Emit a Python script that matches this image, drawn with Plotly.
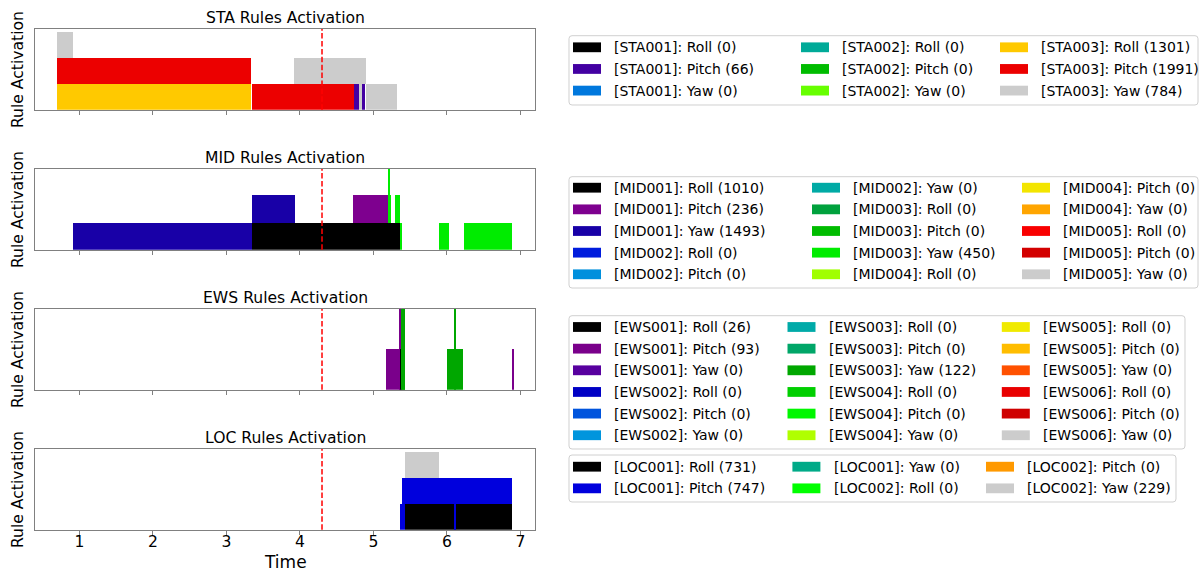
import numpy as np
import plotly.graph_objects as go

W, H = 1203, 572

# ---------------- data ----------------
AXIS_NAMES = ["Roll", "Pitch", "Yaw"]
GROUPS = ["STA", "MID", "EWS", "LOC"]

STA_RULES = ["STA001", "STA002", "STA003"]
STA_COUNTS = [0, 66, 0, 0, 0, 0, 1301, 1991, 784]
# (series index, start time, end time, stack base, height)
STA_SEGMENTS = [
    (6, 0.70, 3.34, 0, 1),
    (7, 0.70, 3.34, 1, 1),
    (8, 0.70, 0.91, 2, 1),
    (7, 3.34, 4.73, 0, 1),
    (8, 3.92, 4.89, 1, 1),
    (1, 4.73, 4.795, 0, 1),
    (8, 4.795, 4.83, 0, 1),
    (1, 4.83, 4.87, 0, 1),
    (8, 4.87, 5.30, 0, 1),
]

MID_RULES = ["MID001", "MID002", "MID003", "MID004", "MID005"]
MID_COUNTS = [1010, 236, 1493, 0, 0, 0, 0, 0, 450, 0, 0, 0, 0, 0, 0]
MID_SEGMENTS = [
    (2, 0.91, 3.34, 0, 1),
    (2, 3.34, 3.93, 1, 1),
    (0, 3.34, 5.36, 0, 1),
    (1, 4.72, 5.20, 1, 1),
    (8, 5.20, 5.235, 1, 1),
    (8, 5.198, 5.212, 1, 2),
    (8, 5.29, 5.36, 1, 1),
    (8, 5.36, 5.377, 0, 1),
    (8, 5.89, 6.02, 0, 1),
    (8, 6.22, 6.885, 0, 1),
]

EWS_RULES = ["EWS001", "EWS002", "EWS003", "EWS004", "EWS005", "EWS006"]
EWS_COUNTS = [26, 93, 0, 0, 0, 0, 0, 0, 122, 0, 0, 0, 0, 0, 0, 0, 0, 0]
EWS_SEGMENTS = [
    (1, 5.17, 5.36, 0, 1),
    (1, 5.343, 5.36, 0, 2),
    (0, 5.36, 5.383, 0, 1),
    (8, 5.383, 5.43, 0, 1),
    (8, 5.379, 5.389, 0, 2),
    (8, 5.401, 5.413, 0, 2),
    (8, 6.00, 6.21, 0, 1),
    (8, 6.102, 6.112, 0, 2),
    (1, 6.883, 6.893, 0, 1),
]

LOC_RULES = ["LOC001", "LOC002"]
LOC_COUNTS = [731, 747, 0, 0, 0, 229]
LOC_SEGMENTS = [
    (1, 5.36, 5.42, 0, 1),
    (0, 5.42, 6.885, 0, 1),
    (1, 6.102, 6.112, 0, 1),
    (1, 5.385, 6.885, 1, 1),
    (5, 5.43, 5.885, 2, 1),
]

EVENT_TIME = 4.30
X_TICKS = [1, 2, 3, 4, 5, 6, 7]
Y_MAX = [3.12, 2.97, 1.99, 3.12]

RULES = [STA_RULES, MID_RULES, EWS_RULES, LOC_RULES]
COUNTS = [STA_COUNTS, MID_COUNTS, EWS_COUNTS, LOC_COUNTS]
SEGMENTS = [STA_SEGMENTS, MID_SEGMENTS, EWS_SEGMENTS, LOC_SEGMENTS]

# ---------------- colormap (nipy_spectral) ----------------
_NS_X = [0.0, 0.05, 0.10, 0.15, 0.20, 0.25, 0.30, 0.35, 0.40, 0.45, 0.50,
         0.55, 0.60, 0.65, 0.70, 0.75, 0.80, 0.85, 0.90, 0.95, 1.0]
_NS_R = [0, .4667, .5333, 0, 0, 0, 0, 0, 0, 0, 0, 0, 0, .7333, .9333, 1, 1, 1, .8667, .8, .8]
_NS_G = [0, 0, 0, 0, 0, .4667, .6, .6667, .6667, .6, .7333, .8667, 1, 1, .9333, .8, .6, 0, 0, 0, .8]
_NS_B = [0, .5333, .6, .6667, .8667, .8667, .8667, .6667, .5333, 0, 0, 0, 0, 0, 0, 0, 0, 0, 0, 0, .8]


def nipy(v):
    idx = min(int(v * 256), 255)
    t = idx / 255.0
    r = np.interp(t, _NS_X, _NS_R)
    g = np.interp(t, _NS_X, _NS_G)
    b = np.interp(t, _NS_X, _NS_B)
    return "rgb(%d,%d,%d)" % (round(r * 255), round(g * 255), round(b * 255))


# ---------------- layout helpers ----------------
def px(x):
    return x / W


def py(y):
    return 1 - y / H


AX_LEFT, AX_RIGHT = 34.6, 535.4
AX_TOPS = [29, 169, 309, 449]
AX_H = 80.7

FONT = "DejaVu Sans"
SPINE = "#808080"

all_starts = [s[1] for segs in SEGMENTS for s in segs]
all_ends = [s[2] for segs in SEGMENTS for s in segs]
lo, hi = min(all_starts), max(all_ends)
pad = 0.05 * (hi - lo)
X_RANGE = [lo - pad, hi + pad]

fig = go.Figure()
layout = dict(
    width=W, height=H,
    margin=dict(l=0, r=0, t=0, b=0),
    paper_bgcolor="white", plot_bgcolor="white",
    showlegend=False,
    font=dict(family=FONT, color="black"),
    bargap=0,
)
annotations = []
shapes = []

for i, grp in enumerate(GROUPS):
    xa = "xaxis" if i == 0 else "xaxis%d" % (i + 1)
    ya = "yaxis" if i == 0 else "yaxis%d" % (i + 1)
    xr = "x" if i == 0 else "x%d" % (i + 1)
    yr = "y" if i == 0 else "y%d" % (i + 1)
    top = AX_TOPS[i]
    bot = top + AX_H
    layout[xa] = dict(
        domain=[px(AX_LEFT), px(AX_RIGHT)], anchor=yr, range=X_RANGE,
        tickmode="array", tickvals=X_TICKS, ticktext=[str(t) for t in X_TICKS],
        showticklabels=(i == 3), ticks="outside", ticklen=4, tickwidth=1, tickcolor=SPINE,
        showline=True, linecolor=SPINE, linewidth=1, mirror=True,
        showgrid=False, zeroline=False, ticklabelstandoff=-6,
        tickfont=dict(family=FONT, size=15.6, color="black"),
    )
    layout[ya] = dict(
        domain=[py(bot), py(top)], anchor=xr, range=[0, Y_MAX[i]],
        showticklabels=False, ticks="", showline=True, linecolor=SPINE, linewidth=1,
        mirror=True, showgrid=False, zeroline=False,
    )

    rules = RULES[i]
    n = len(rules) * len(AXIS_NAMES)
    colors = [nipy(k / (n - 1)) for k in range(n)]

    for (si, s, e, b, h) in SEGMENTS[i]:
        fig.add_trace(go.Bar(
            x=[(s + e) / 2], y=[h], base=[b], width=[e - s],
            marker=dict(color=colors[si], line=dict(width=0)),
            xaxis=xr, yaxis=yr, showlegend=False, hoverinfo="skip",
        ))

    shapes.append(dict(type="line", xref=xr, yref=yr + " domain",
                       x0=EVENT_TIME, x1=EVENT_TIME, y0=0, y1=1,
                       line=dict(color="red", width=1.5, dash="5.5px,2.4px"), layer="above"))

    annotations.append(dict(text="%s Rules Activation" % grp, xref="paper", yref="paper",
                            x=px((AX_LEFT + AX_RIGHT) / 2), y=py(top - 11.5),
                            xanchor="center", yanchor="middle", showarrow=False,
                            font=dict(family=FONT, size=15.6, color="black")))
    annotations.append(dict(text="Rule Activation", xref="paper", yref="paper",
                            x=px(18.7), y=py(top + AX_H / 2), textangle=-90,
                            xanchor="center", yanchor="middle", showarrow=False,
                            font=dict(family=FONT, size=15.6, color="black")))

annotations.append(dict(text="Time", xref="paper", yref="paper",
                        x=px((AX_LEFT + AX_RIGHT) / 2), y=py(561.7),
                        xanchor="center", yanchor="middle", showarrow=False,
                        font=dict(family=FONT, size=17, color="black")))

# ---------------- legends (matplotlib-style, column-major, 3 columns) ----------------
LEG_BOX = [(569, 35.7, 1198, 105), (569, 176.7, 1198, 288),
           (569, 315.7, 1185, 449), (569, 455, 1176, 502)]
LEG_COLX = [(573, 801, 1000), (573, 812, 1022), (573, 787.5, 1001.8), (573, 792.4, 986)]
LEG_ROW0 = [47.3, 187.7, 327, 466.7]
ROW_STEP = 21.65
SW_W, SW_H = 28, 9.8
TXT_GAP = 11.2


def rounded_rect(l, t, r, b, rad=3):
    L, R, T, B = px(l), px(r), py(t), py(b)
    rx, ry = rad / W, rad / H
    return ("M %f,%f L %f,%f Q %f,%f %f,%f L %f,%f Q %f,%f %f,%f L %f,%f Q %f,%f %f,%f "
            "L %f,%f Q %f,%f %f,%f Z" % (
                L + rx, T, R - rx, T, R, T, R, T - ry, R, B + ry, R, B, R - rx, B,
                L + rx, B, L, B, L, B + ry, L, T - ry, L, T, L + rx, T))


for i in range(4):
    rules = RULES[i]
    n = len(rules) * len(AXIS_NAMES)
    colors = [nipy(k / (n - 1)) for k in range(n)]
    nrows = int(np.ceil(n / 3))
    l, t, r, b = LEG_BOX[i]
    shapes.append(dict(type="path", xref="paper", yref="paper", path=rounded_rect(l, t, r, b),
                       fillcolor="rgba(255,255,255,0.8)", line=dict(color="#d0d0d0", width=1),
                       layer="above"))
    k = 0
    for rule in rules:
        for ax in AXIS_NAMES:
            col, row = k // nrows, k % nrows
            cx = LEG_COLX[i][col]
            cy = LEG_ROW0[i] + row * ROW_STEP
            shapes.append(dict(type="rect", xref="paper", yref="paper",
                               x0=px(cx), x1=px(cx + SW_W),
                               y0=py(cy + SW_H / 2), y1=py(cy - SW_H / 2),
                               fillcolor=colors[k], line=dict(width=0), layer="above"))
            annotations.append(dict(text="[%s]: %s (%d)" % (rule, ax, COUNTS[i][k]),
                                    xref="paper", yref="paper",
                                    x=px(cx + SW_W + TXT_GAP), y=py(cy),
                                    xanchor="left", yanchor="middle", showarrow=False,
                                    font=dict(family=FONT, size=14, color="black")))
            k += 1

layout["annotations"] = annotations
layout["shapes"] = shapes
fig.update_layout(**layout)
fig.write_html(
    "out.html",
    config={"displayModeBar": False},
    post_script="document.body.style.margin='0px';document.body.style.overflow='hidden';",
)
